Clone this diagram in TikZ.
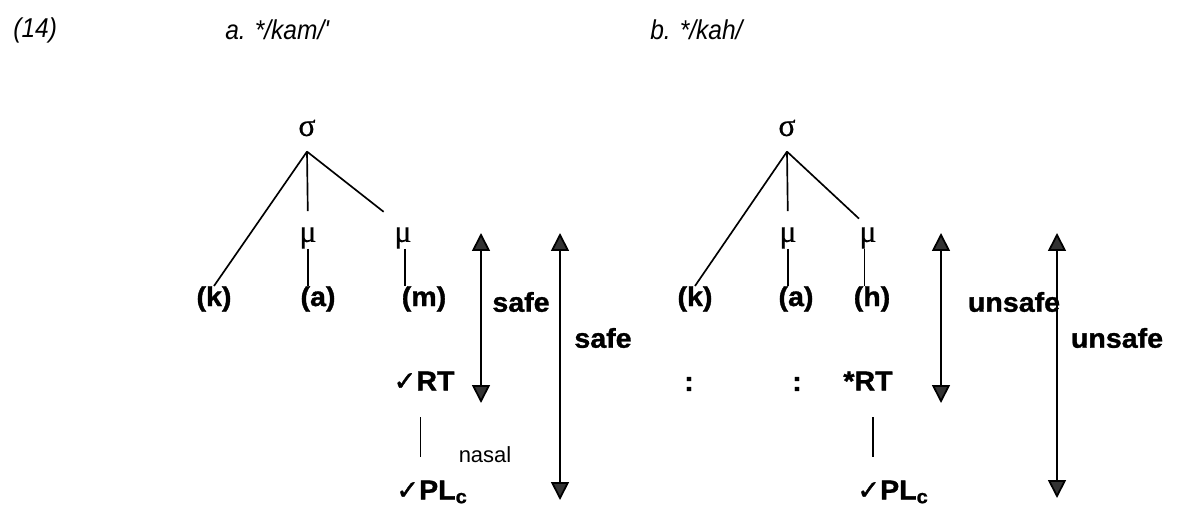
\documentclass[tikz,border=0pt]{standalone}
\usepackage{fontspec}
\setmainfont{Liberation Sans}
\newfontfamily\headfont[FakeStretch=0.9]{Liberation Sans}
\newfontfamily\segfont[FakeStretch=1.05,FakeBold=1.2]{Liberation Sans Bold}
\newfontfamily\grkfont[FakeBold=0.6]{Liberation Serif}
\newfontfamily\symfont[FakeBold=1.5]{DejaVu Sans Bold}
\usetikzlibrary{arrows.meta}
\newcommand{\ok}{{\symfont ✓}}
\newcommand{\plc}{PL\textsubscript{c}}
\tikzset{
  seg/.style={font=\segfont\fontsize{15.5}{17}\selectfont, inner sep=0pt},
  grk/.style={font=\grkfont\fontsize{18}{20}\selectfont, inner sep=0pt},
  head/.style={font=\headfont\itshape\fontsize{15.5}{17}\selectfont, inner sep=0pt, anchor=west},
  tie/.style={line width=0.95pt},
  reach/.style={line width=1pt,
    {Triangle[length=3.6mm,width=3.6mm,fill=black!80]}-{Triangle[length=3.6mm,width=3.6mm,fill=black!80]}},
}

\begin{document}
\begin{tikzpicture}[x=0.02cm,y=-0.02cm]
  \useasboundingbox (0,0) rectangle (1177,507);
  % headings
  \node[head] (ex) at (13,30) {(14)};
  \node[head] (exa) at (225,30) {a. */kam/'};
  \node[head] (exb) at (650,30) {b. */kah/};

  % a. */kam/
  \node[grk] (sigA) at (307,128) {σ};
  \coordinate (apxA) at ([yshift=-0.3cm]sigA.south);
  \node[grk] (muA1) at (308,238) {μ};
  \node[grk] (muA2) at (403,238) {μ};
  \node[seg] (kA) at (214,299) {(k)};
  \node[seg] (aA) at (318,299) {(a)};
  \node[seg] (mA) at (424,299) {(m)};
  \node[seg] (rtA) at (424,381) {\ok RT};
  \node[seg] (plA) at (432,492) {\ok\plc};
  \node[font=\fontsize{12.5}{14}\selectfont, inner sep=0pt] (nasA) at (485,455) {nasal};
  \draw[tie] (apxA) -- (kA.north);
  \draw[tie,shorten >=9pt] (apxA) -- (muA1.north);
  \draw[tie,shorten >=14pt] (apxA) -- (muA2.north);
  \draw[tie] (muA1.south) -- (muA1.south |- aA.north);
  \draw[tie] ([xshift=1pt]muA2.south) -- ([xshift=1pt]muA2.south |- mA.north);
  \draw[tie,shorten <=15pt,shorten >=13pt] ([xshift=-2pt]rtA.south) -- ([xshift=-2pt]rtA.south |- plA.north);

  \coordinate (topA1) at (481,233);
  \coordinate (botA1) at (481,403);
  \coordinate (topA2) at (560,233);
  \coordinate (botA2) at (560,500);
  \draw[reach] (topA1) -- (botA1);
  \draw[reach] (topA2) -- (botA2);
  \node[seg] (safeA1) at (521,302) {safe};
  \node[seg] (safeA2) at (603,338) {safe};

  % b. */kah/
  \node[grk] (sigB) at (787,128) {σ};
  \coordinate (apxB) at ([yshift=-0.3cm]sigB.south);
  \node[grk] (muB1) at (788,238) {μ};
  \node[grk] (muB2) at (868,238) {μ};
  \node[seg] (kB) at (695,299) {(k)};
  \node[seg] (aB) at (796,299) {(a)};
  \node[seg] (hB) at (872,299) {(h)};
  \node[seg] (dotB1) at (689,384) {:};
  \node[seg] (dotB2) at (797,384) {:};
  \node[seg] (rtB) at (868,381) {*RT};
  \node[seg] (plB) at (893,492) {\ok\plc};
  \draw[tie] (apxB) -- (kB.north);
  \draw[tie,shorten >=9pt] (apxB) -- (muB1.north);
  \draw[tie,shorten >=7pt] (apxB) -- (muB2.north);
  \draw[tie] (muB1.south) -- (muB1.south |- aB.north);
  \draw[tie] ([xshift=-2pt]muB2.south) -- ([xshift=-2pt]muB2.south |- hB.north);
  \draw[tie,shorten <=15pt,shorten >=13pt] ([xshift=3pt]rtB.south) -- ([xshift=3pt]rtB.south |- plB.north);

  \coordinate (topB1) at (941,233);
  \coordinate (botB1) at (941,403);
  \coordinate (topB2) at (1057,233);
  \coordinate (botB2) at (1057,498);
  \draw[reach] (topB1) -- (botB1);
  \draw[reach] (topB2) -- (botB2);
  \node[seg] (unsB1) at (1014,302) {unsafe};
  \node[seg] (unsB2) at (1117,338) {unsafe};
\end{tikzpicture}
\end{document}
